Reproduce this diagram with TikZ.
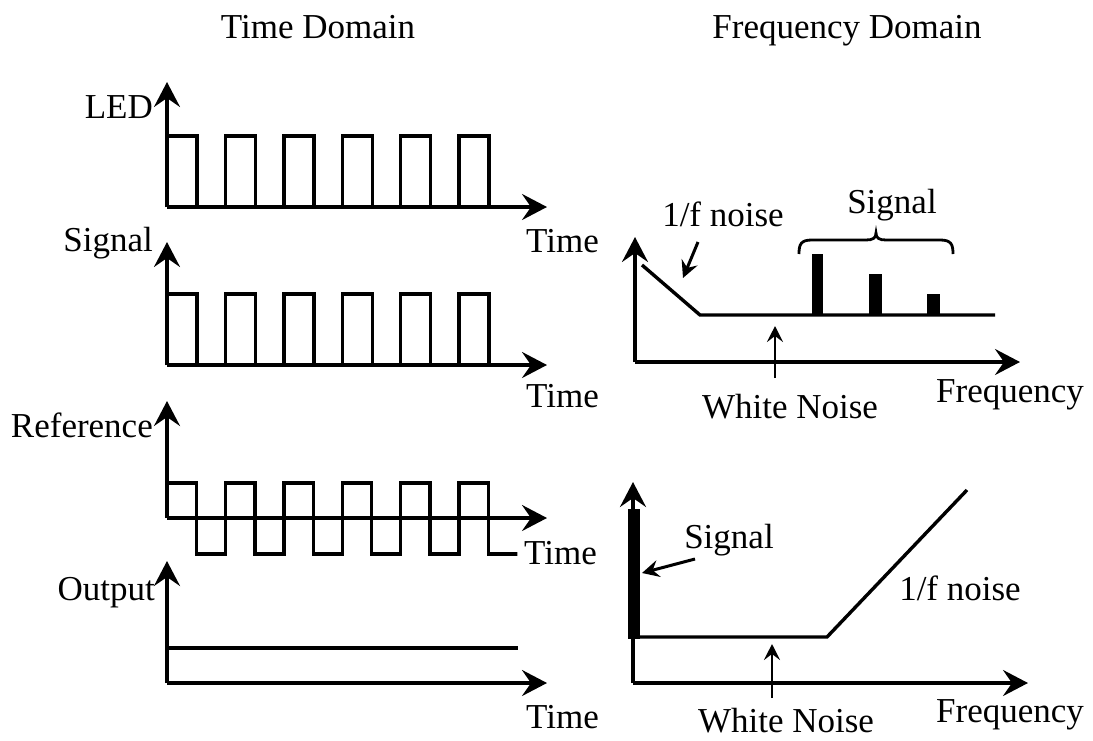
\documentclass[tikz,border=0pt]{standalone}
\usepackage{fontspec}
\setmainfont{Liberation Serif}
\usetikzlibrary{arrows.meta}

\tikzset{
  axis/.style={line width=3.4pt, -{Stealth[length=25pt,width=26pt,inset=9pt]}},
  wave/.style={line width=3.4pt, line join=miter},
  note/.style={line width=3pt, -{Stealth[length=17pt,width=17pt,inset=6pt]}},
  thinnote/.style={line width=2.4pt, -{Stealth[length=16pt,width=16pt,inset=6pt]}},
  lbl/.style={inner sep=0pt, font=\fontsize{35}{40}\selectfont},
}

\begin{document}
\begin{tikzpicture}[x=1pt, y=-1pt]
\useasboundingbox (0,0) rectangle (1093,740);

% ---------- column titles ----------
\node[lbl, anchor=base] (ttime) at (318,38) {Time Domain};
\node[lbl, anchor=base] (tfreq) at (847,38) {Frequency Domain};

% ---------- LED ----------
\coordinate (o1) at (167,207);
\draw[axis] (o1) -- (167,82);
\draw[axis] (o1) -- (547,207);
\node[lbl, anchor=base east] (lled) at (153,118) {LED};
\node[lbl, anchor=base west] (t1) at (526,252) {Time};
\foreach \k in {0,...,5}{
  \pgfmathsetmacro{\s}{167+58.4*\k}
  \draw[wave] (\s,207) -- (\s,136) -- (\s+30,136) -- (\s+30,207);
}

% ---------- Signal ----------
\coordinate (o2) at (167,365);
\draw[axis] (o2) -- (167,242);
\draw[axis] (o2) -- (547,365);
\node[lbl, anchor=base east] (lsig) at (153,251) {Signal};
\node[lbl, anchor=base west] (t2) at (526,407) {Time};
\foreach \k in {0,...,5}{
  \pgfmathsetmacro{\s}{167+58.4*\k}
  \draw[wave] (\s,365) -- (\s,294) -- (\s+30,294) -- (\s+30,365);
}

% ---------- Reference ----------
\coordinate (o3) at (167,518);
\draw[axis] (o3) -- (167,401);
\draw[axis] (o3) -- (547,518);
\node[lbl, anchor=base east] (lref) at (153,437) {Reference};
\node[lbl, anchor=base west] (t3) at (524,564) {Time};
\draw[wave] (167,483)
  \foreach \k in {0,...,5}{
    -- ({167+58.4*\k},483) -- ({167+58.4*\k+29.5},483)
    -- ({167+58.4*\k+29.5},554) -- ({167+58.4*(\k+1)},554)
  } -- (516,554);

% ---------- Output ----------
\coordinate (o4) at (167,683);
\draw[axis] (o4) -- (167,561);
\draw[axis] (o4) -- (547,683);
\node[lbl, anchor=base east] (lout) at (155,600) {Output};
\node[lbl, anchor=base west] (t4) at (526,728) {Time};
\draw[wave] (167,648) -- (518,648);

% ---------- Frequency domain, upper ----------
\coordinate (f1) at (635,362);
\draw[axis] (f1) -- (635,237);
\draw[axis] (f1) -- (1020,362);
\node[lbl, anchor=base] (fq1) at (1010,402) {Frequency};
\draw[wave] (642,265) -- (700,315) -- (995,315);
\fill (812,254) rectangle (823,316);
\fill (869,274) rectangle (882,316);
\fill (927,294) rectangle (940,316);
% bracket over the harmonics
\draw[line width=2.8pt]
  (799,254) .. controls (799,244) and (801,240) .. (812,240) -- (866,240)
  .. controls (873,240) and (876,238) .. (876,233)
  .. controls (876,238) and (879,240) .. (886,240) -- (940,240)
  .. controls (951,240) and (953,244) .. (953,254);
\node[lbl, anchor=base] (sig1) at (892,213) {Signal};
\node[lbl, anchor=base] (nz1) at (723,226) {1/f noise};
\coordinate (nz1tail) at (698,242);
\coordinate (nz1tip) at (683,278);
\draw[note] (nz1tail) -- (nz1tip);
\node[lbl, anchor=base] (wn1) at (790,418) {White Noise};
\coordinate (wn1tail) at (775,378);
\coordinate (wn1tip) at (775,326);
\draw[thinnote] (wn1tail) -- (wn1tip);

% ---------- Frequency domain, lower ----------
\coordinate (f2) at (633,683);
\draw[axis] (f2) -- (633,482);
\draw[axis] (f2) -- (1028,683);
\node[lbl, anchor=base] (fq2) at (1010,722) {Frequency};
\fill (628,509) rectangle (640,639);
\draw[wave] (633,637) -- (827,637) -- (967,490);
\node[lbl, anchor=base] (sig2) at (729,548) {Signal};
\coordinate (sig2tail) at (695,559);
\coordinate (sig2tip) at (642,573);
\draw[note] (sig2tail) -- (sig2tip);
\node[lbl, anchor=base] (nz2) at (960,600) {1/f noise};
\node[lbl, anchor=base] (wn2) at (786,732) {White Noise};
\coordinate (wn2tail) at (772,698);
\coordinate (wn2tip) at (772,644);
\draw[thinnote] (wn2tail) -- (wn2tip);
\end{tikzpicture}
\end{document}
